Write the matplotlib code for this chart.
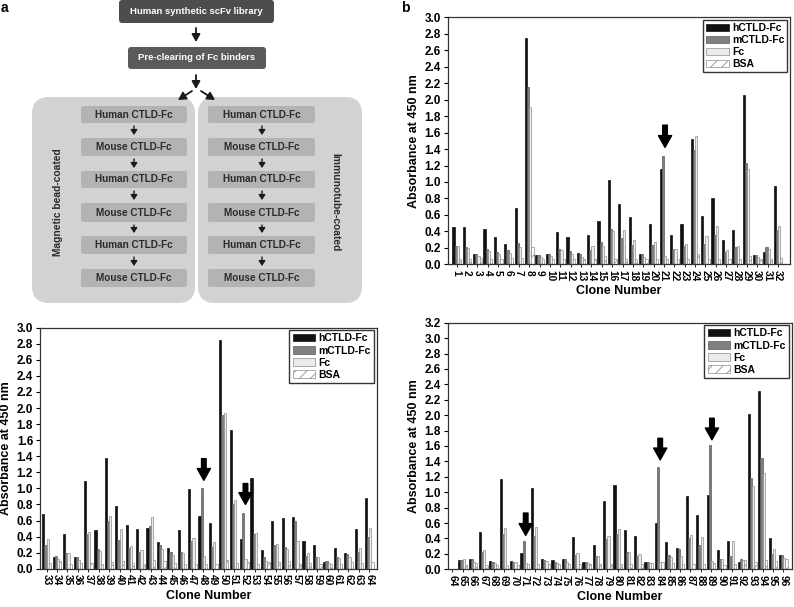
import matplotlib
matplotlib.use('Agg')
import matplotlib.pyplot as plt
from matplotlib.patches import FancyBboxPatch
from matplotlib.ticker import FormatStrFormatter
import numpy as np

plt.rcParams['font.family'] = ['Liberation Sans', 'DejaVu Sans']
plt.rcParams['font.weight'] = 'bold'
plt.rcParams['axes.labelweight'] = 'bold'
plt.rcParams['hatch.linewidth'] = 0.6

series = ['hCTLD-Fc', 'mCTLD-Fc', 'Fc', 'BSA']

# ---------- panel b, clones 1-32 ----------
clones_1 = list(range(1, 33))
h_1 = [0.45, 0.45, 0.13, 0.43, 0.33, 0.25, 0.68, 2.75, 0.11, 0.13, 0.39, 0.33, 0.14, 0.36, 0.52, 1.02,
       0.73, 0.57, 0.12, 0.49, 1.16, 0.36, 0.49, 1.52, 0.59, 0.80, 0.30, 0.42, 2.06, 0.11, 0.15, 0.95]
m_1 = [0.22, 0.21, 0.12, 0.19, 0.15, 0.17, 0.26, 2.15, 0.11, 0.12, 0.19, 0.16, 0.12, 0.17, 0.27, 0.43,
       0.32, 0.24, 0.12, 0.23, 1.32, 0.18, 0.22, 1.39, 0.25, 0.36, 0.15, 0.21, 1.23, 0.11, 0.21, 0.42]
f_1 = [0.22, 0.20, 0.10, 0.16, 0.13, 0.14, 0.21, 1.91, 0.09, 0.10, 0.17, 0.13, 0.09, 0.22, 0.22, 0.41,
       0.42, 0.30, 0.09, 0.27, 0.10, 0.18, 0.25, 1.56, 0.34, 0.47, 0.17, 0.22, 1.16, 0.09, 0.19, 0.46]
b_1 = [0.07, 0.07, 0.08, 0.06, 0.06, 0.08, 0.08, 0.21, 0.07, 0.07, 0.07, 0.07, 0.07, 0.07, 0.10, 0.07,
       0.07, 0.07, 0.07, 0.07, 0.07, 0.07, 0.07, 0.12, 0.07, 0.07, 0.07, 0.07, 0.10, 0.07, 0.07, 0.08]

# ---------- clones 33-64 ----------
clones_2 = list(range(33, 65))
h_2 = [0.68, 0.14, 0.43, 0.14, 1.09, 0.48, 1.38, 0.78, 0.55, 0.49, 0.51, 0.33, 0.26, 0.48, 0.99, 0.65,
       0.57, 2.85, 1.73, 0.37, 1.13, 0.23, 0.60, 0.63, 0.64, 0.35, 0.30, 0.08, 0.26, 0.20, 0.50, 0.88]
m_2 = [0.30, 0.16, 0.20, 0.14, 0.43, 0.24, 0.59, 0.36, 0.26, 0.21, 0.53, 0.30, 0.21, 0.21, 0.35, 1.00,
       0.27, 1.91, 0.80, 0.69, 0.43, 0.14, 0.29, 0.27, 0.59, 0.16, 0.14, 0.10, 0.15, 0.18, 0.21, 0.39]
f_2 = [0.37, 0.12, 0.19, 0.11, 0.46, 0.22, 0.66, 0.50, 0.28, 0.23, 0.64, 0.24, 0.17, 0.20, 0.38, 0.16,
       0.33, 1.94, 0.86, 0.12, 0.45, 0.09, 0.31, 0.25, 0.35, 0.19, 0.15, 0.07, 0.13, 0.14, 0.26, 0.51]
b_2 = [0.07, 0.09, 0.06, 0.07, 0.07, 0.06, 0.08, 0.09, 0.07, 0.06, 0.11, 0.10, 0.07, 0.06, 0.06, 0.06,
       0.06, 0.11, 0.07, 0.08, 0.06, 0.08, 0.08, 0.10, 0.06, 0.07, 0.06, 0.06, 0.06, 0.08, 0.07, 0.08]

# ---------- clones 64-96 ----------
clones_3 = list(range(64, 97))
h_3 = [0.00, 0.12, 0.13, 0.48, 0.11, 1.17, 0.11, 0.21, 1.06, 0.13, 0.12, 0.13, 0.42, 0.10, 0.32, 0.89,
       1.09, 0.51, 0.43, 0.10, 0.60, 0.35, 0.27, 0.95, 0.71, 0.96, 0.25, 0.37, 0.10, 2.02, 2.31, 0.41, 0.19]
m_3 = [0.00, 0.12, 0.13, 0.22, 0.10, 0.46, 0.10, 0.37, 0.43, 0.12, 0.09, 0.13, 0.19, 0.10, 0.17, 0.39,
       0.46, 0.22, 0.17, 0.09, 1.33, 0.19, 0.26, 0.41, 0.31, 1.61, 0.14, 0.17, 0.13, 1.19, 1.44, 0.20, 0.19]
f_3 = [0.00, 0.14, 0.10, 0.25, 0.08, 0.54, 0.10, 0.08, 0.55, 0.11, 0.08, 0.09, 0.21, 0.08, 0.17, 0.43,
       0.52, 0.22, 0.20, 0.08, 0.09, 0.16, 0.17, 0.44, 0.42, 0.11, 0.14, 0.37, 0.12, 1.08, 1.25, 0.26, 0.15]
b_3 = [0.00, 0.06, 0.08, 0.06, 0.06, 0.06, 0.06, 0.07, 0.07, 0.07, 0.07, 0.07, 0.07, 0.07, 0.07, 0.07,
       0.07, 0.07, 0.07, 0.08, 0.09, 0.08, 0.07, 0.07, 0.07, 0.08, 0.06, 0.07, 0.12, 0.10, 0.12, 0.11, 0.13]

# arrows: (clone, top value, tip value)
arrows_1 = [(21, 1.69, 1.42)]
arrows_2 = [(48, 1.37, 1.10), (52, 1.06, 0.80)]
arrows_3 = [(71, 0.73, 0.44), (84, 1.70, 1.42), (89, 1.96, 1.68)]

# ---------- flowchart text ----------
top_box_text = 'Human synthetic scFv library'
pre_box_text = 'Pre-clearing of Fc binders'
steps = ['Human CTLD-Fc', 'Mouse CTLD-Fc', 'Human CTLD-Fc', 'Mouse CTLD-Fc', 'Human CTLD-Fc', 'Mouse CTLD-Fc']
left_side = 'Magnetic bead-coated'
right_side = 'Immunotube-coated'

W, H = 794, 607
fig = plt.figure(figsize=(W / 100, H / 100), dpi=100)

fa = fig.add_axes([0, 0, 1, 1], zorder=0)
fa.set_xlim(0, W)
fa.set_ylim(H, 0)
fa.axis('off')


def rbox(x0, y0, x1, y1, fc, r):
    fa.add_patch(FancyBboxPatch((x0 + r, y0 + r), (x1 - x0 - 2 * r), (y1 - y0 - 2 * r),
                                boxstyle=f'round,pad={r}', fc=fc, ec='none'))


def sarrow(x0, y0, x1, y1, hw=0.25, hl=0.45, lw=1.3):
    fa.annotate('', xy=(x1, y1), xytext=(x0, y0),
                arrowprops=dict(arrowstyle=f'-|>,head_width={hw},head_length={hl}', color='#1a1a1a',
                                lw=lw, shrinkA=0, shrinkB=0))


rbox(119, 0, 274, 23, '#4d4d4d', 3)
fa.text(196.5, 11.5, top_box_text, color='white', fontsize=6.8, ha='center', va='center', fontweight='bold')
sarrow(196, 28, 196, 42)
rbox(128, 47, 266, 69, '#5a5a5a', 3)
fa.text(197, 58, pre_box_text, color='white', fontsize=6.8, ha='center', va='center', fontweight='bold')
sarrow(196, 75, 196, 89)
sarrow(192, 91, 178, 100)
sarrow(201, 91, 215, 100)

rbox(32, 97, 195, 303, '#d2d2d2', 17)
rbox(198, 97, 362, 303, '#d2d2d2', 17)
rows = [(106, 123), (138, 156), (171, 188), (203, 222), (236, 254), (269, 287)]
for (y0, y1), s in zip(rows, steps):
    rbox(81, y0, 187, y1, '#b3b3b3', 2)
    rbox(208, y0, 315, y1, '#b3b3b3', 2)
    fa.text(134, (y0 + y1) / 2, s, color='#2b2b2b', fontsize=7.2, ha='center', va='center', fontweight='bold')
    fa.text(261.5, (y0 + y1) / 2, s, color='#2b2b2b', fontsize=7.2, ha='center', va='center', fontweight='bold')
for i in range(len(rows) - 1):
    ya, yb = rows[i][1] + 3, rows[i + 1][0] - 3
    sarrow(134, ya, 134, yb, hw=0.2, hl=0.3, lw=1.0)
    sarrow(262, ya, 262, yb, hw=0.2, hl=0.3, lw=1.0)
fa.text(58, 202, left_side, rotation=90, fontsize=7.4, ha='center', va='center', color='#2b2b2b', fontweight='bold')
fa.text(335, 202, right_side, rotation=270, fontsize=7.4, ha='center', va='center', color='#2b2b2b', fontweight='bold')

fa.text(1, 1, 'a', fontsize=10, ha='left', va='top', fontweight='bold')
fa.text(401, 1, 'b', fontsize=10, ha='left', va='top', fontweight='bold')


def px_axes(l, t, r, b):
    return fig.add_axes([l / W, 1 - b / H, (r - l) / W, (b - t) / H], zorder=2)


def chart(ax, clones, vals, ymax, xlim, arrows):
    x = np.arange(len(clones))
    w = 0.21
    offs = [-1.5, -0.5, 0.5, 1.5]
    styles = [dict(fc='#111111', ec='#111111'),
              dict(fc='#808080', ec='#5a5a5a'),
              dict(fc='#ebebeb', ec='#8c8c8c'),
              dict(fc='white', ec='#8c8c8c', hatch='///')]
    for v, o, st, lab in zip(vals, offs, styles, series):
        ax.bar(x + o * w, v, w, label=lab, lw=0.5, **st)
    ax.set_xlim(*xlim)
    ax.set_ylim(0, ymax)
    ax.set_yticks(np.arange(0, ymax + 0.01, 0.2))
    ax.yaxis.set_major_formatter(FormatStrFormatter('%.1f'))
    ax.set_xticks(x)
    ax.set_xticklabels([str(c) for c in clones], rotation=270, fontsize=7.3, fontweight='bold')
    for lab in ax.get_yticklabels():
        lab.set_fontweight('bold')
    ax.tick_params(axis='y', labelsize=8.5, direction='out', length=3, width=0.8, pad=2)
    ax.tick_params(axis='x', direction='out', length=2, width=0.6, pad=2)
    for sp in ax.spines.values():
        sp.set_color('#333333')
        sp.set_linewidth(0.9)
    ax.set_ylabel('Absorbance at 450 nm', fontsize=9, labelpad=3, fontweight='bold')
    ax.set_xlabel('Clone Number', fontsize=9, labelpad=3, fontweight='bold')
    for c, top, tip in arrows:
        xi = clones.index(c) + 0.1
        ax.annotate('', xy=(xi, tip), xytext=(xi, top),
                    arrowprops=dict(arrowstyle='simple,head_length=0.85,head_width=0.95,tail_width=0.33',
                                    mutation_scale=10, fc='black', ec='black', shrinkA=0, shrinkB=0))
    leg = ax.legend(loc='upper right', prop=dict(size=7.5, weight='bold'), frameon=True, fancybox=False,
                    edgecolor='black', borderaxespad=0.25, handlelength=2.2, handleheight=0.7,
                    labelspacing=0.2, borderpad=0.3, handletextpad=0.3)
    leg.get_frame().set_linewidth(1.0)


ax1 = px_axes(447.7, 17.3, 790, 264.3)
chart(ax1, clones_1, [h_1, m_1, f_1, b_1], 3.0, (-0.87, 32.16), arrows_1)

ax2 = px_axes(40, 327.7, 376.7, 568.7)
chart(ax2, clones_2, [h_2, m_2, f_2, b_2], 3.0, (-0.64, 31.71), arrows_2)

ax3 = px_axes(447.7, 322.7, 791.7, 569.3)
chart(ax3, clones_3, [h_3, m_3, f_3, b_3], 3.2, (-0.44, 32.81), arrows_3)

fig.savefig('out.png', dpi=100)
